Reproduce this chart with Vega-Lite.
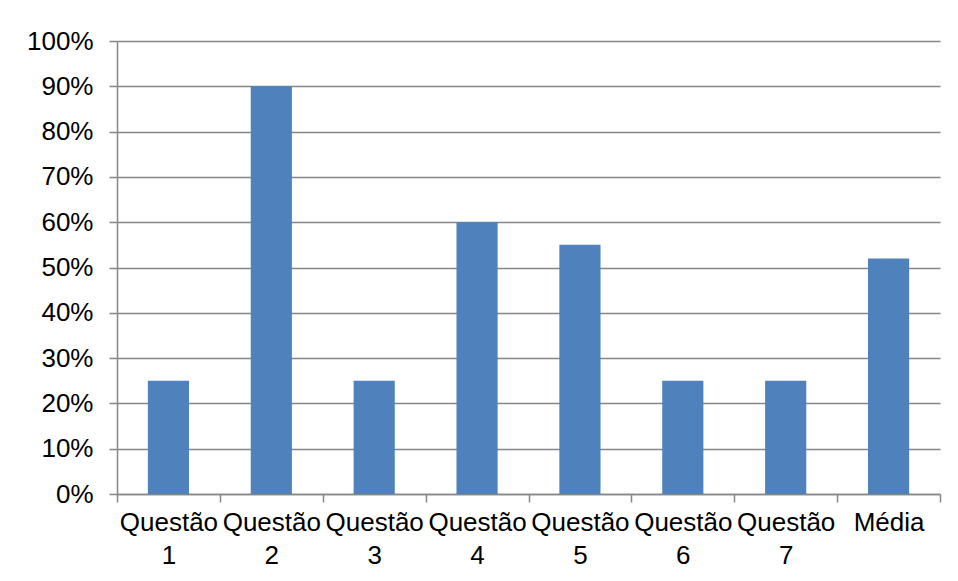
{
  "$schema": "https://vega.github.io/schema/vega-lite/v6.json",
  "autosize": {"type": "none"},
  "padding": {"left": 117, "top": 41, "right": 18, "bottom": 87},
  "width": 823,
  "height": 453,
  "background": "white",
  "config": {
    "view": {"stroke": null},
    "font": "Liberation Sans",
    "axis": {
      "labelFont": "Liberation Sans",
      "labelFontSize": 26,
      "labelColor": "#000000",
      "domainColor": "#868686",
      "tickColor": "#868686",
      "gridColor": "#868686",
      "domainWidth": 1.5,
      "tickWidth": 1.5,
      "gridWidth": 1.5,
      "tickSize": 8,
      "title": null
    }
  },
  "data": {
    "values": [
      {"q": "Questão 1", "v": 0.25},
      {"q": "Questão 2", "v": 0.90},
      {"q": "Questão 3", "v": 0.25},
      {"q": "Questão 4", "v": 0.60},
      {"q": "Questão 5", "v": 0.55},
      {"q": "Questão 6", "v": 0.25},
      {"q": "Questão 7", "v": 0.25},
      {"q": "Média", "v": 0.52}
    ]
  },
  "mark": {"type": "bar", "color": "#4F81BD", "width": {"band": 0.4}},
  "encoding": {
    "x": {
      "field": "q",
      "type": "nominal",
      "sort": null,
      "scale": {"paddingInner": 0, "paddingOuter": 0},
      "axis": {
        "labelAngle": 0,
        "tickBand": "extent",
        "labelPadding": 7,
        "labelLineHeight": 33,
        "labelExpr": "split(datum.label, ' ')",
        "labelBaseline": "top",
        "grid": false
      }
    },
    "y": {
      "field": "v",
      "type": "quantitative",
      "scale": {"domain": [0, 1], "nice": false},
      "axis": {
        "format": ".0%",
        "values": [0, 0.1, 0.2, 0.3, 0.4, 0.5, 0.6, 0.7, 0.8, 0.9, 1],
        "grid": true,
        "labelPadding": 16
      }
    }
  }
}
